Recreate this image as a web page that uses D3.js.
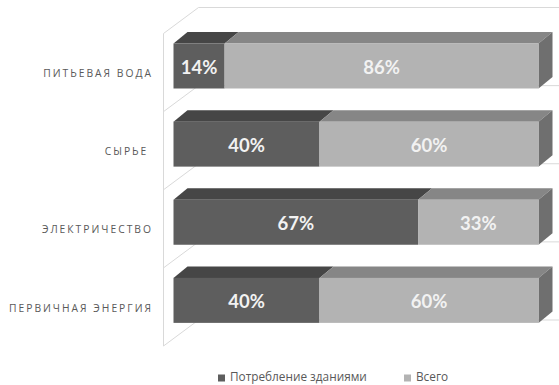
<!DOCTYPE html>
<html>
<head>
<meta charset="utf-8">
<script src="https://cdn.jsdelivr.net/npm/d3@7"></script>
<style>
  html, body { margin: 0; padding: 0; background: #ffffff; }
  svg { display: block; }
</style>
</head>
<body>
<div id="chart"></div>
<script>
// Categories, top to bottom
const categories = ["ПИТЬЕВАЯ ВОДА", "СЫРЬЕ\u00a0", "ЭЛЕКТРИЧЕСТВО", "ПЕРВИЧНАЯ ЭНЕРГИЯ"];
// Share consumed by buildings, %
const buildingShare = [14, 40, 67, 40];
// Remaining share of the total, %
const totalShare = [86, 60, 33, 60];
// Legend entries
const seriesNames = ["Потребление зданиями", "Всего"];

const W = 559, H = 385;
const svg = d3.select("#chart").append("svg")
  .attr("width", W).attr("height", H);

// 3D box geometry: front plane of the left wall, and depth offset to the back wall
const wallX = 163.5, depthX = 35, depthY = -26;
const x = d3.scaleLinear().domain([0, 100]).range([173.5, 538.5]);
const y = d3.scaleBand().domain(categories).range([33.5, 346]);

// Bar extrusion
const bdx = 14, bdy = -11.5, barOffset = 10, barH = 45;

const gridColor = "#d9d9d9";
const walls = svg.append("g").attr("fill", "none").attr("stroke", gridColor).attr("stroke-width", 1);

// Band boundaries (top of each band plus the floor)
const bounds = categories.map(c => y(c)).concat([y.range()[1]]);
walls.append("line")
  .attr("x1", wallX).attr("x2", wallX)
  .attr("y1", bounds[0]).attr("y2", bounds[bounds.length - 1]);
bounds.forEach(b => {
  walls.append("line")
    .attr("x1", wallX).attr("y1", b)
    .attr("x2", wallX + depthX).attr("y2", b + depthY);
  walls.append("line")
    .attr("x1", wallX + depthX).attr("y1", b + depthY)
    .attr("x2", W + 5).attr("y2", b + depthY);
});

// Stacked segments
const colors = {
  dark: { front: "#5e5e5e", top: "#464646", side: "#4f4f4f" },
  light: { front: "#b3b3b3", top: "#868686", side: "#6f6f6f" }
};

const rows = categories.map((c, i) => ({
  cat: c,
  segs: [
    { key: "dark", x0: 0, x1: buildingShare[i], v: buildingShare[i] },
    { key: "light", x0: buildingShare[i], x1: buildingShare[i] + totalShare[i], v: totalShare[i] }
  ]
}));

const bars = svg.append("g");
rows.forEach((r, ri) => {
  const yt = y(r.cat) + barOffset, yb = yt + barH;
  r.segs.forEach((s, si) => {
    const a = x(s.x0), b = x(s.x1), col = colors[s.key];
    const g = bars.append("g");
    g.append("polygon")
      .attr("points", [[a, yt], [a + bdx, yt + bdy], [b + bdx, yt + bdy], [b, yt]].join(" "))
      .attr("fill", col.top);
    if (si === r.segs.length - 1) {
      g.append("polygon")
        .attr("points", [[b, yt], [b + bdx, yt + bdy], [b + bdx, yb + bdy], [b, yb]].join(" "))
        .attr("fill", col.side);
    }
    g.append("rect")
      .attr("x", a).attr("y", yt)
      .attr("width", b - a).attr("height", barH)
      .attr("fill", col.front);
    g.append("text")
      .attr("x", (a + b) / 2).attr("y", yt + barH / 2 + 1)
      .attr("dy", "0.36em")
      .attr("text-anchor", "middle")
      .attr("font-family", "Lato, 'Open Sans', sans-serif")
      .attr("font-weight", "bold")
      .attr("font-size", "18.5px")
      .attr("fill", "#f2f2f2")
      .text(s.v + "%");
  });
});

// Category labels
svg.append("g").selectAll("text").data(categories).join("text")
  .attr("x", 153)
  .attr("y", d => y(d) + y.bandwidth() / 2 + 1)
  .attr("dy", "0.35em")
  .attr("text-anchor", "end")
  .attr("font-family", "'Open Sans', sans-serif")
  .attr("font-size", "10.3px")
  .attr("letter-spacing", "2px")
  .attr("fill", "#595959")
  .text(d => d);

// Legend
const legend = svg.append("g");
const legendX = [218, 404];
seriesNames.forEach((n, i) => {
  legend.append("rect")
    .attr("x", legendX[i]).attr("y", 374.5)
    .attr("width", 7).attr("height", 7)
    .attr("fill", i === 0 ? colors.dark.front : colors.light.front);
  legend.append("text")
    .attr("x", legendX[i] + 12).attr("y", 377)
    .attr("dy", "0.35em")
    .attr("font-family", "'Open Sans', sans-serif")
    .attr("font-size", "11.8px")
    .attr("fill", "#595959")
    .text(n);
});
</script>
</body>
</html>
